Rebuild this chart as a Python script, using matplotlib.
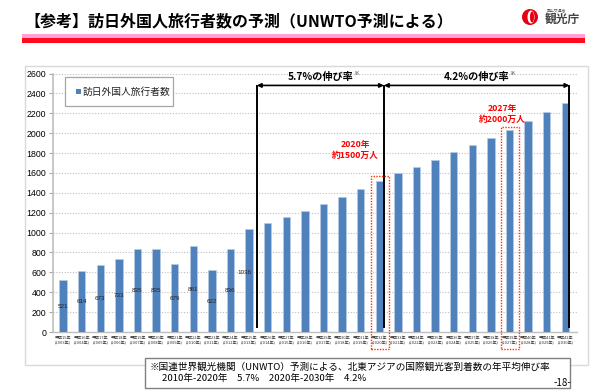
import matplotlib
matplotlib.use("Agg")
import matplotlib.pyplot as plt
from matplotlib.patches import Rectangle, Circle, Ellipse

plt.rcParams['font.family'] = ['Noto Sans CJK JP', 'DejaVu Sans']

# ---------------- data ----------------
years = list(range(2003, 2031))
heisei = [y - 1988 for y in years]
tick_labels = [f"平成{h}年\n({y}年)" for h, y in zip(heisei, years)]
values = [521, 614, 673, 733, 835, 835, 679, 861, 622, 836, 1036,
          1097, 1157, 1217, 1290, 1360, 1437, 1520,
          1596, 1663, 1733, 1806, 1880, 1956, 2036, 2123, 2213, 2300]
labeled_values = [521, 614, 673, 733, 835, 835, 679, 861, 622, 836, 1036]
series_name = "訪日外国人旅行者数"
title = "【参考】訪日外国人旅行者数の予測（UNWTO予測による）"
growth_texts = ["5.7%の伸び率", "4.2%の伸び率"]
callouts = [("2020年\n約1500万人", 2020), ("2027年\n約2000万人", 2027)]
note_lines = ["※国連世界観光機関（UNWTO）予測による、北東アジアの国際観光客到着数の年平均伸び率",
              "2010年-2020年　5.7%　2020年-2030年　4.2%"]
yticks = list(range(0, 2601, 200))

BLUE = "#4F81BD"
RED = "#FF0000"

W, H = 600, 390
fig = plt.figure(figsize=(6, 3.9), dpi=100)

# background overlay (pixel coords)
bg = fig.add_axes([0, 0, 1, 1], zorder=0)
bg.set_xlim(0, W); bg.set_ylim(H, 0); bg.axis('off')

# frame
bg.add_patch(Rectangle((25, 66), 563, 299, fill=False, edgecolor="#D9D9D9", lw=1))
# title
bg.text(24, 21, title, fontsize=11.5, fontweight='bold', va='center', ha='left', color='black')
# band
bg.add_patch(Rectangle((22, 34), 563, 4, facecolor="#FFA3D6", edgecolor='none'))
bg.add_patch(Rectangle((22, 38), 563, 5, facecolor="#FF0A1E", edgecolor='none'))
# logo
bg.add_patch(Circle((530, 17), 8, facecolor="#E60012", edgecolor='none'))
bg.add_patch(Ellipse((531, 17), 7, 13, facecolor="white", edgecolor='none'))
bg.add_patch(Ellipse((532, 17), 4, 11, facecolor="#E60012", edgecolor='none'))
bg.text(547, 10, "国土交通省", fontsize=2.8, color="#555555", va='center', ha='left')
bg.text(545, 19, "観光庁", fontsize=8.5, fontweight='bold', color="#444444", va='center', ha='left')

# ---------------- chart ----------------
x0, x1, ytop, ybot = 53, 577, 73.5, 332
ax = fig.add_axes([x0 / W, 1 - ybot / H, (x1 - x0) / W, (ybot - ytop) / H], zorder=1)
ax.set_facecolor('none')
xs = list(range(len(years)))
ax.bar(xs, values, width=0.4, color=BLUE, edgecolor="#B8CCE4", linewidth=0.5, zorder=3)
ax.set_xlim(-0.54, 27.63)
ax.set_ylim(0, 2600)
ax.set_yticks(yticks)
ax.set_yticklabels([str(v) for v in yticks], fontsize=6.3, family=['Liberation Sans', 'DejaVu Sans'])
ax.set_xticks(xs)
ax.set_xticklabels(tick_labels, fontsize=2.9, linespacing=1.6, color="#333333")
ax.tick_params(axis='x', length=0, pad=2.5)
ax.tick_params(axis='y', length=3, color="#A6A6A6", width=0.8, pad=2)
for s in ['top', 'right']:
    ax.spines[s].set_visible(False)
ax.spines['left'].set_color("#BFBFBF"); ax.spines['left'].set_linewidth(1.2)
ax.spines['bottom'].set_color("#BFBFBF"); ax.spines['bottom'].set_linewidth(1.0)
ax.yaxis.grid(True, color="#BFBFBF", linestyle=(0, (1, 1.5)), linewidth=0.8, zorder=0)
ax.set_axisbelow(True)

# data labels
for i, v in enumerate(labeled_values):
    ypos = v * (0.58 if v > 1000 else 0.5)
    ax.text(i - (0.25 if v > 1000 else 0), ypos, str(v), fontsize=4.5, ha='center', va='center',
            color="#222222", family=['Liberation Sans', 'DejaVu Sans'], zorder=4)

# vertical lines & arrows
i2020 = years.index(2020)
i2030 = years.index(2030)
xa, xb, xc = 10.42, i2020 + 0.25, i2030 + 0.22
for xv in (xa, xb, xc):
    ax.plot([xv, xv], [40, 2480], color='black', lw=1.4, zorder=5, solid_capstyle='butt')
for (l, r), txt in zip([(xa, xb), (xb, xc)], growth_texts):
    ax.annotate('', xy=(l, 2480), xytext=(r, 2480),
                arrowprops=dict(arrowstyle='<|-|>', color='black', lw=1.2, mutation_scale=6,
                                shrinkA=0, shrinkB=0), zorder=5)
    t = ax.text((l + r) / 2, 2565, txt, fontsize=7.3, fontweight='bold', ha='center', va='center', zorder=5)
    ax.annotate('※', xy=(1, 0.85), xycoords=t, fontsize=4, va='center', ha='left', color='#333333')

# red dotted boxes and callouts
box_tops = {2020: 1570, 2027: 2060}
text_pos = {2020: (15.7, 1830), 2027: (23.6, 2195)}
for txt, yr in callouts:
    i = years.index(yr)
    top = box_tops[yr]
    ax.add_patch(Rectangle((i - 0.46, -170), 0.99, top + 170, fill=False, edgecolor="#FF3300",
                           linestyle=(0, (1, 1)), lw=1.0, clip_on=False, zorder=6))
    tx, ty = text_pos[yr]
    ax.text(tx, ty, txt, color=RED, fontsize=6.3, fontweight='bold', ha='center', va='center',
            linespacing=1.25, zorder=6)

# ---------------- foreground overlay ----------------
fg = fig.add_axes([0, 0, 1, 1], zorder=2)
fg.set_facecolor('none')
fg.set_xlim(0, W); fg.set_ylim(H, 0); fg.axis('off')
# legend
fg.add_patch(Rectangle((65, 77), 108, 29, facecolor='white', edgecolor="#A6A6A6", lw=0.9))
fg.add_patch(Rectangle((76, 89), 4.5, 4.5, facecolor=BLUE, edgecolor='none'))
fg.text(83, 91.5, series_name, fontsize=7, va='center', ha='left', color="#222222")
# note box
fg.add_patch(Rectangle((145, 358), 425, 30, facecolor='white', edgecolor="#808080", lw=1))
fg.text(150, 367, note_lines[0], fontsize=6.9, va='center', ha='left', color='black')
fg.text(162, 378.5, note_lines[1], fontsize=6.9, va='center', ha='left', color='black')
fg.text(562, 383, "-18-", fontsize=7, va='center', ha='center', color='black')

fig.savefig("out.png", dpi=100)
